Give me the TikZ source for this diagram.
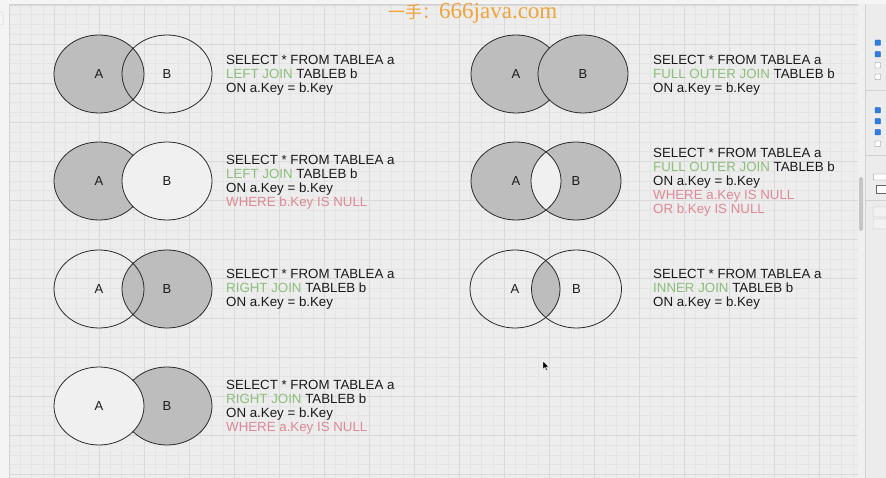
\documentclass[tikz,border=0pt]{standalone}
\usepackage{fontspec}
\setmainfont{Liberation Sans}
\newfontfamily\wmserif{Liberation Serif}
\newfontfamily\cjk{Noto Sans CJK SC}
\definecolor{canvasbg}{HTML}{EDEDED}
\definecolor{gridminor}{HTML}{E4E4E4}
\definecolor{gridmajor}{HTML}{D9D9D9}
\definecolor{vgray}{HTML}{BDBDBD}
\definecolor{vlight}{HTML}{F0F0F0}
\definecolor{vline}{HTML}{2A2A2A}
\definecolor{sqlblack}{HTML}{1A1A1A}
\definecolor{sqlgreen}{HTML}{8DBE7B}
\definecolor{sqlred}{HTML}{DE8995}
\definecolor{wmorange}{HTML}{F0A53A}
\definecolor{panelbg}{HTML}{ECECEC}
\definecolor{panelline}{HTML}{D2D2D2}
\definecolor{cbblue}{HTML}{2F7DE1}
\tikzset{
  venn/.style={draw=vline, line width=0.8pt},
  oval/.style={x radius=45pt, y radius=39pt},
  lbl/.style={inner sep=0pt, font=\fontsize{13}{13}\selectfont, text=sqlblack},
  sql/.style={anchor=base west, inner sep=0pt, font=\fontsize{13.3}{14}\selectfont, text=sqlblack},
  cbon/.style={fill=cbblue, draw=cbblue!80!black, line width=0.3pt, rounded corners=0.6pt},
  cboff/.style={fill=white, draw=gray, line width=0.4pt, rounded corners=0.6pt},
  sep/.style={draw=panelline, line width=0.5pt},
  btn/.style={fill=panelbg!70!white, draw=panelline, line width=0.5pt, rounded corners=1pt}
}
\newcommand\gs{\textcolor{sqlgreen}}
\newcommand\rs{\textcolor{sqlred}}
\begin{document}
\begin{tikzpicture}[x=1pt,y=-1pt]
\useasboundingbox (0,0) rectangle (886,478);
% background
\fill[canvasbg] (0,0) rectangle (886,478);
\begin{scope}
  \clip (10,5) rectangle (858,478);
  \foreach \i in {0,...,75} \draw[gridminor, line width=0.5pt] ({9+11.25*\i},5) -- ({9+11.25*\i},478);
  \foreach \j in {0,...,48} \draw[gridminor, line width=0.5pt] (10,{4.9+9.78*\j}) -- (858,{4.9+9.78*\j});
  \foreach \i in {0,...,18} \draw[gridmajor, line width=0.6pt] ({9+45*\i},5) -- ({9+45*\i},478);
  \foreach \j in {0,...,12} \draw[gridmajor, line width=0.6pt] (10,{4.9+39.12*\j}) -- (858,{4.9+39.12*\j});
\end{scope}
% top and left strips
\fill[panelbg!60!white] (0,0) rectangle (886,4.5);
\draw[sep] (0,4.5) -- (866,4.5);
\fill[panelbg!60!white] (0,4.5) rectangle (9.5,478);
\draw[sep] (9.5,4.5) -- (9.5,478);
\draw[sep, rounded corners=1pt] (-2,12) rectangle (3,25);
% right panel
\fill[panelbg!80!white] (858,4.5) rectangle (865,478);
\fill[gray!45, rounded corners=2pt] (859,177) rectangle (863,231);
\fill[panelbg] (865.5,4.5) rectangle (886,478);
\draw[sep] (865.5,4.5) -- (865.5,478);
\draw[cbon] (875,40) rectangle (880.5,45.5);
\draw[cbon] (875,51.5) rectangle (880.5,57);
\draw[cboff] (875,62.5) rectangle (880.5,68);
\draw[cboff] (875,74) rectangle (880.5,79.5);
\draw[sep] (866,90) -- (886,90);
\draw[cbon] (875,107.5) rectangle (880.5,113);
\draw[cbon] (875,118.5) rectangle (880.5,124);
\draw[cbon] (875,129.5) rectangle (880.5,135);
\draw[cboff] (875,141) rectangle (880.5,146.5);
\draw[sep] (866,155) -- (886,155);
\draw[cboff, rounded corners=0.5pt] (873.5,174) rectangle (888,180);
\draw[draw=gray!80!black, fill=white, line width=0.5pt] (876,185) rectangle (888,193.5);
\draw[sep] (866,200) -- (886,200);
\draw[btn] (873,207) rectangle (888,217);
\draw[btn] (873,219) rectangle (888,229);
% watermark
\node[anchor=base west, inner sep=0pt, text=wmorange] (wm) at (388,19)
  {{\cjk\fontsize{17}{17}\selectfont 一手：}{\wmserif\fontsize{23}{23}\selectfont 666java.com}};

% ---------- Left column ----------
% row 1: LEFT JOIN
\coordinate (l1a) at (99,74); \coordinate (l1b) at (167,74);
\fill[vgray] (l1a) ellipse [oval];
\draw[venn] (l1a) ellipse [oval];
\draw[venn] (l1b) ellipse [oval];
\node[lbl] (l1A) at (l1a) {A};
\node[lbl] (l1B) at (l1b) {B};
\node[sql] (l1t1) at (226,65) {SELECT * FROM TABLEA a};
\node[sql] (l1t2) at (226,79) {\gs{LEFT JOIN} TABLEB b};
\node[sql] (l1t3) at (226,93) {ON a.Key = b.Key};

% row 2: LEFT JOIN where b null
\coordinate (l2a) at (99,181); \coordinate (l2b) at (167,181);
\fill[vgray] (l2a) ellipse [oval];
\draw[venn] (l2a) ellipse [oval];
\fill[vlight] (l2b) ellipse [oval];
\draw[venn] (l2b) ellipse [oval];
\node[lbl] (l2A) at (l2a) {A};
\node[lbl] (l2B) at (l2b) {B};
\node[sql] (l2t1) at (226,165) {SELECT * FROM TABLEA a};
\node[sql] (l2t2) at (226,179) {\gs{LEFT JOIN} TABLEB b};
\node[sql] (l2t3) at (226,193) {ON a.Key = b.Key};
\node[sql] (l2t4) at (226,207) {\rs{WHERE b.Key IS NULL}};

% row 3: RIGHT JOIN
\coordinate (l3a) at (99,289); \coordinate (l3b) at (167,289);
\fill[vgray] (l3b) ellipse [oval];
\draw[venn] (l3a) ellipse [oval];
\draw[venn] (l3b) ellipse [oval];
\node[lbl] (l3A) at (l3a) {A};
\node[lbl] (l3B) at (l3b) {B};
\node[sql] (l3t1) at (226,279) {SELECT * FROM TABLEA a};
\node[sql] (l3t2) at (226,293) {\gs{RIGHT JOIN} TABLEB b};
\node[sql] (l3t3) at (226,307) {ON a.Key = b.Key};

% row 4: RIGHT JOIN where a null
\coordinate (l4a) at (99,406); \coordinate (l4b) at (167,406);
\fill[vgray] (l4b) ellipse [oval];
\draw[venn] (l4b) ellipse [oval];
\fill[vlight] (l4a) ellipse [oval];
\draw[venn] (l4a) ellipse [oval];
\node[lbl] (l4A) at (l4a) {A};
\node[lbl] (l4B) at (l4b) {B};
\node[sql] (l4t1) at (226,389.5) {SELECT * FROM TABLEA a};
\node[sql] (l4t2) at (226,403.6) {\gs{RIGHT JOIN} TABLEB b};
\node[sql] (l4t3) at (226,417.7) {ON a.Key = b.Key};
\node[sql] (l4t4) at (226,431.8) {\rs{WHERE a.Key IS NULL}};

% ---------- Right column ----------
% row 1: FULL OUTER JOIN
\coordinate (r1a) at (516,74); \coordinate (r1b) at (583,74);
\fill[vgray] (r1a) ellipse [oval];
\draw[venn] (r1a) ellipse [oval];
\fill[vgray] (r1b) ellipse [oval];
\draw[venn] (r1b) ellipse [oval];
\node[lbl] (r1A) at (r1a) {A};
\node[lbl] (r1B) at (r1b) {B};
\node[sql] (r1t1) at (653,65) {SELECT * FROM TABLEA a};
\node[sql] (r1t2) at (653,79) {\gs{FULL OUTER JOIN} TABLEB b};
\node[sql] (r1t3) at (653,93) {ON a.Key = b.Key};

% row 2: FULL OUTER JOIN excluding intersection
\coordinate (r2a) at (516,181); \coordinate (r2b) at (576,181);
\fill[vgray] (r2a) ellipse [oval];
\fill[vgray] (r2b) ellipse [oval];
\begin{scope}
  \clip (r2a) ellipse [oval];
  \fill[vlight] (r2b) ellipse [oval];
\end{scope}
\draw[venn] (r2a) ellipse [oval];
\draw[venn] (r2b) ellipse [oval];
\node[lbl] (r2A) at (r2a) {A};
\node[lbl] (r2B) at (r2b) {B};
\node[sql] (r2t1) at (653,158) {SELECT * FROM TABLEA a};
\node[sql] (r2t2) at (653,172) {\gs{FULL OUTER JOIN} TABLEB b};
\node[sql] (r2t3) at (653,186) {ON a.Key = b.Key};
\node[sql] (r2t4) at (653,200) {\rs{WHERE a.Key IS NULL}};
\node[sql] (r2t5) at (653,214) {\rs{OR b.Key IS NULL}};

% row 3: INNER JOIN
\coordinate (r3a) at (515,289); \coordinate (r3b) at (576.5,289);
\begin{scope}
  \clip (r3a) ellipse [oval];
  \fill[vgray] (r3b) ellipse [oval];
\end{scope}
\draw[venn] (r3a) ellipse [oval];
\draw[venn] (r3b) ellipse [oval];
\node[lbl] (r3A) at (r3a) {A};
\node[lbl] (r3B) at (r3b) {B};
\node[sql] (r3t1) at (653,279) {SELECT * FROM TABLEA a};
\node[sql] (r3t2) at (653,293) {\gs{INNER JOIN} TABLEB b};
\node[sql] (r3t3) at (653,307) {ON a.Key = b.Key};

% mouse pointer
\filldraw[fill=black, draw=white, line width=0.4pt, shift={(543,361)}, scale=0.75]
  (0,0) -- (0,11) -- (2.6,8.6) -- (4.4,12.8) -- (6,12.1) -- (4.2,8) -- (7.6,8) -- cycle;
\end{tikzpicture}
\end{document}
